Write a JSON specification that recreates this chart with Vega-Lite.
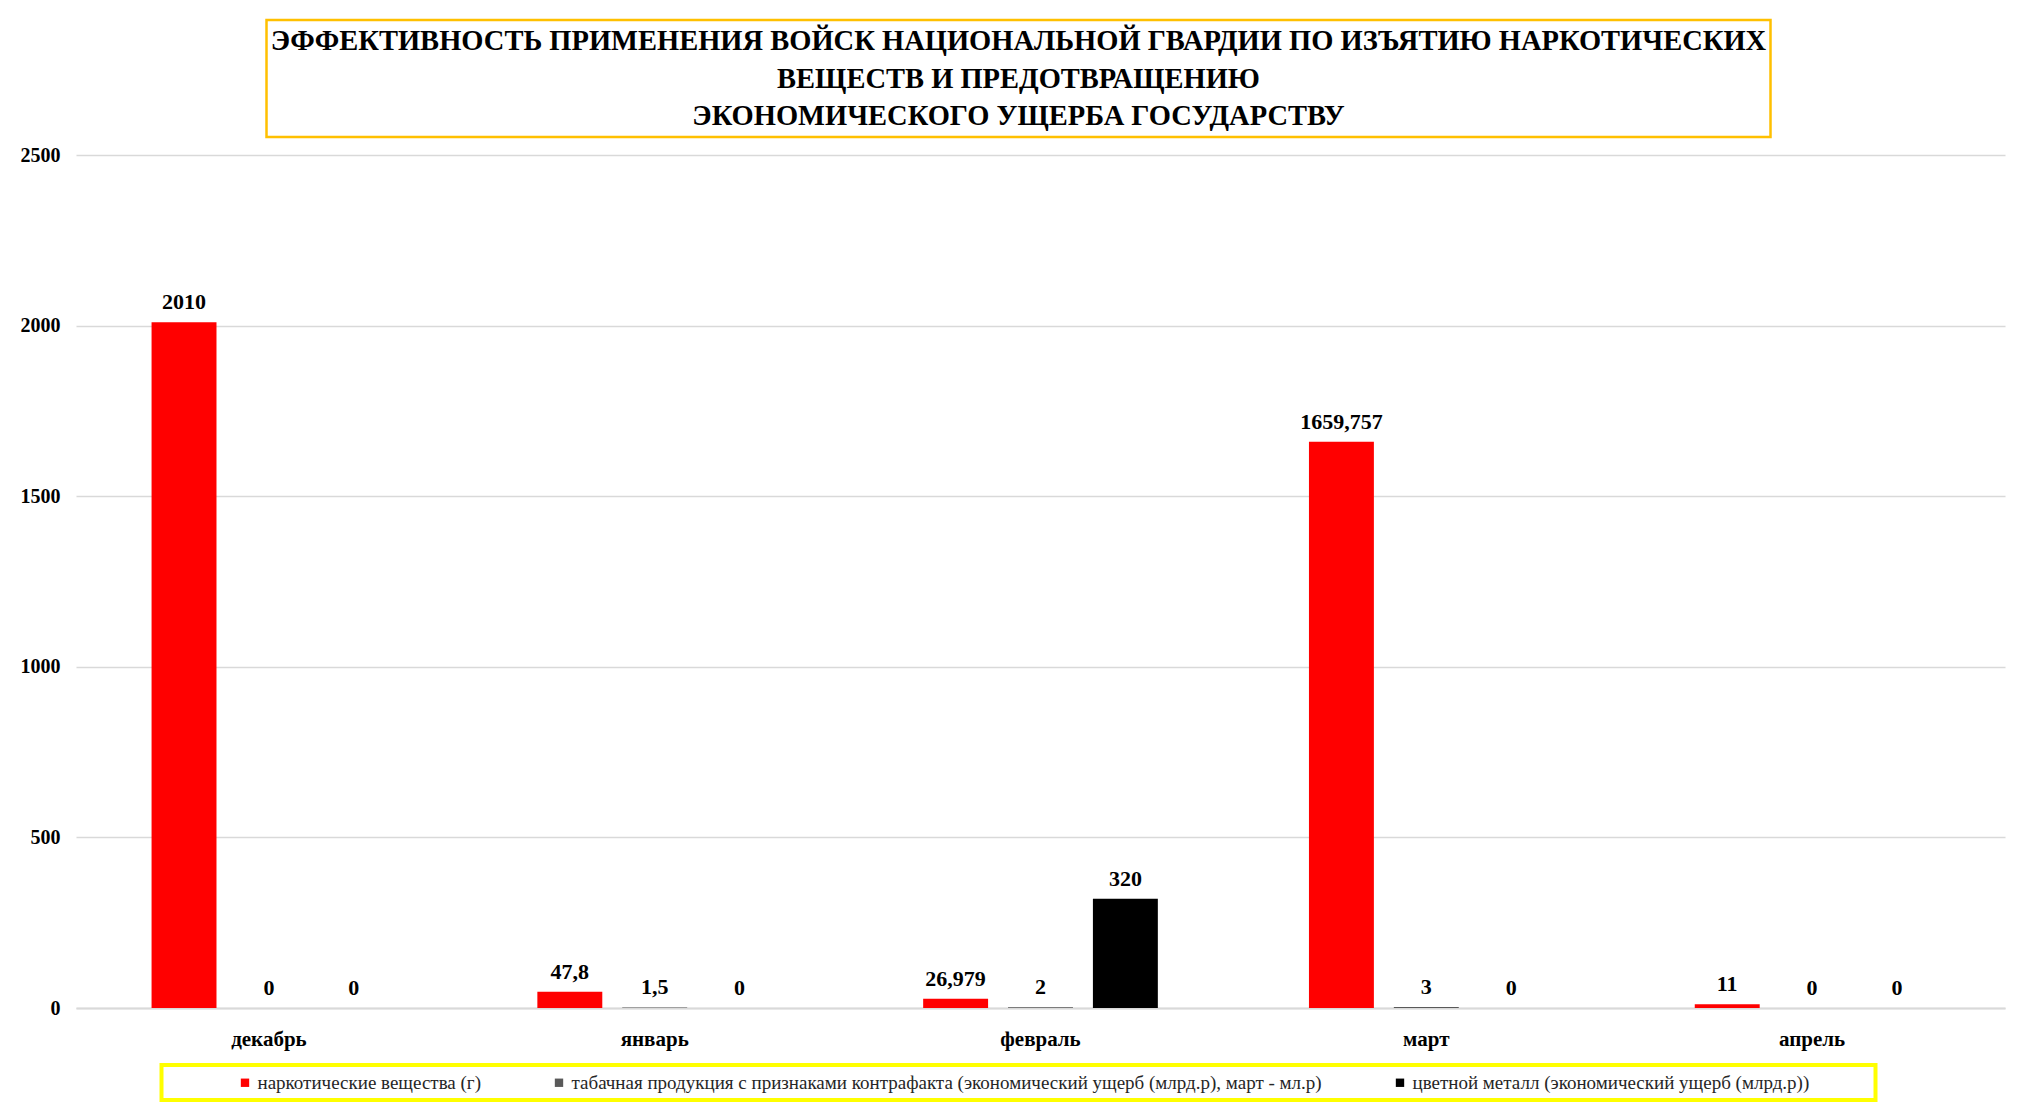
{
  "$schema": "https://vega.github.io/schema/vega-lite/v6.json",
  "padding": {"left": 20, "top": 18, "right": 20, "bottom": 2},
  "background": "white",
  "center": true,
  "spacing": 6,
  "config": {
    "font": "Liberation Serif",
    "view": {"stroke": null}
  },
  "datasets": {
    "bars": [
      {"month": "декабрь", "series": "наркотические вещества (г)", "value": 2010, "label": "2010"},
      {"month": "декабрь", "series": "табачная продукция с признаками контрафакта (экономический ущерб (млрд.р), март - мл.р)", "value": 0, "label": "0"},
      {"month": "декабрь", "series": "цветной металл (экономический ущерб (млрд.р))", "value": 0, "label": "0"},
      {"month": "январь", "series": "наркотические вещества (г)", "value": 47.8, "label": "47,8"},
      {"month": "январь", "series": "табачная продукция с признаками контрафакта (экономический ущерб (млрд.р), март - мл.р)", "value": 1.5, "label": "1,5"},
      {"month": "январь", "series": "цветной металл (экономический ущерб (млрд.р))", "value": 0, "label": "0"},
      {"month": "февраль", "series": "наркотические вещества (г)", "value": 26.979, "label": "26,979"},
      {"month": "февраль", "series": "табачная продукция с признаками контрафакта (экономический ущерб (млрд.р), март - мл.р)", "value": 2, "label": "2"},
      {"month": "февраль", "series": "цветной металл (экономический ущерб (млрд.р))", "value": 320, "label": "320"},
      {"month": "март", "series": "наркотические вещества (г)", "value": 1659.757, "label": "1659,757"},
      {"month": "март", "series": "табачная продукция с признаками контрафакта (экономический ущерб (млрд.р), март - мл.р)", "value": 3, "label": "3"},
      {"month": "март", "series": "цветной металл (экономический ущерб (млрд.р))", "value": 0, "label": "0"},
      {"month": "апрель", "series": "наркотические вещества (г)", "value": 11, "label": "11"},
      {"month": "апрель", "series": "табачная продукция с признаками контрафакта (экономический ущерб (млрд.р), март - мл.р)", "value": 0, "label": "0"},
      {"month": "апрель", "series": "цветной металл (экономический ущерб (млрд.р))", "value": 0, "label": "0"}
    ]
  },
  "resolve": {"legend": {"color": "independent"}},
  "vconcat": [
    {
      "spacing": 0,
      "hconcat": [
        {
          "width": 1504,
          "height": 117,
          "view": {"stroke": "#FFC000", "strokeWidth": 2.5},
          "data": {"values": [{"t": 1}]},
          "mark": {
            "type": "text",
            "text": ["ЭФФЕКТИВНОСТЬ ПРИМЕНЕНИЯ ВОЙСК НАЦИОНАЛЬНОЙ ГВАРДИИ ПО ИЗЪЯТИЮ НАРКОТИЧЕСКИХ", "ВЕЩЕСТВ И ПРЕДОТВРАЩЕНИЮ", "ЭКОНОМИЧЕСКОГО УЩЕРБА ГОСУДАРСТВУ"],
            "font": "Liberation Serif",
            "fontWeight": "bold",
            "fontSize": 28.5,
            "lineHeight": 37.5,
            "align": "center",
            "baseline": "middle",
            "dy": -37.5,
            "color": "black"
          },
          "encoding": {}
        },
        {
          "width": 42,
          "height": 117,
          "data": {"values": [{"t": 1}]},
          "mark": {"type": "point", "opacity": 0},
          "encoding": {}
        }
      ]
    },
    {
      "center": true,
      "spacing": 14,
      "resolve": {"legend": {"color": "independent"}},
      "vconcat": [
        {
          "width": 1929,
          "height": 853,
          "data": {"name": "bars"},
          "encoding": {
            "x": {
              "field": "month", "type": "nominal", "sort": null,
              "scale": {"paddingInner": 0.34, "paddingOuter": 0.17},
              "axis": {
                "title": null, "labelAngle": 0, "ticks": false,
                "domain": true, "domainColor": "#D9D9D9", "domainWidth": 2,
                "labelFont": "Liberation Serif", "labelFontWeight": "bold",
                "labelFontSize": 21, "labelColor": "black", "labelPadding": 20
              }
            },
            "xOffset": {
              "field": "series", "type": "nominal", "sort": null,
              "scale": {"paddingInner": 0.235, "paddingOuter": 0.1175}
            },
            "y": {
              "field": "value", "type": "quantitative",
              "scale": {"domain": [0, 2500], "nice": false},
              "axis": {
                "title": null, "values": [0, 500, 1000, 1500, 2000, 2500],
                "format": "d",
                "domain": false, "ticks": false,
                "gridColor": "#D9D9D9", "gridWidth": 1.5,
                "labelFont": "Liberation Serif", "labelFontWeight": "bold",
                "labelFontSize": 20, "labelColor": "black", "labelPadding": 16
              }
            }
          },
          "layer": [
            {
              "mark": {"type": "bar"},
              "encoding": {
                "color": {
                  "field": "series", "type": "nominal",
                  "scale": {
                    "domain": ["наркотические вещества (г)", "табачная продукция с признаками контрафакта (экономический ущерб (млрд.р), март - мл.р)", "цветной металл (экономический ущерб (млрд.р))"],
                    "range": ["#FF0000", "#595959", "#000000"]
                  },
                  "legend": null
                }
              }
            },
            {
              "mark": {
                "type": "text", "font": "Liberation Serif", "fontWeight": "bold",
                "fontSize": 22, "baseline": "alphabetic", "dy": -13, "color": "black"
              },
              "encoding": {"text": {"field": "label"}}
            }
          ]
        },
        {
          "spacing": 0,
          "resolve": {"legend": {"color": "independent"}},
          "hconcat": [
            {
              "width": 1714,
              "height": 35,
              "view": {"stroke": "#FFFF00", "strokeWidth": 4},
              "data": {"name": "bars"},
              "mark": {"type": "point", "opacity": 0, "filled": true},
              "encoding": {
                "color": {
                  "field": "series", "type": "nominal",
                  "scale": {
                    "domain": ["наркотические вещества (г)", "табачная продукция с признаками контрафакта (экономический ущерб (млрд.р), март - мл.р)", "цветной металл (экономический ущерб (млрд.р))"],
                    "range": ["#FF0000", "#595959", "#000000"]
                  },
                  "legend": {
                    "title": null, "orient": "none", "legendX": 74, "legendY": 8,
                    "direction": "horizontal", "symbolType": "square", "symbolSize": 70,
                    "symbolOpacity": 1, "symbolStrokeWidth": 0,
                    "labelFont": "Liberation Serif", "labelFontSize": 19,
                    "labelColor": "#262626", "labelLimit": 1200, "labelOffset": 3,
                    "columnPadding": 68
                  }
                }
              }
            },
            {
              "width": 42,
              "height": 35,
              "data": {"values": [{"t": 1}]},
              "mark": {"type": "point", "opacity": 0},
              "encoding": {}
            }
          ]
        }
      ]
    }
  ]
}
